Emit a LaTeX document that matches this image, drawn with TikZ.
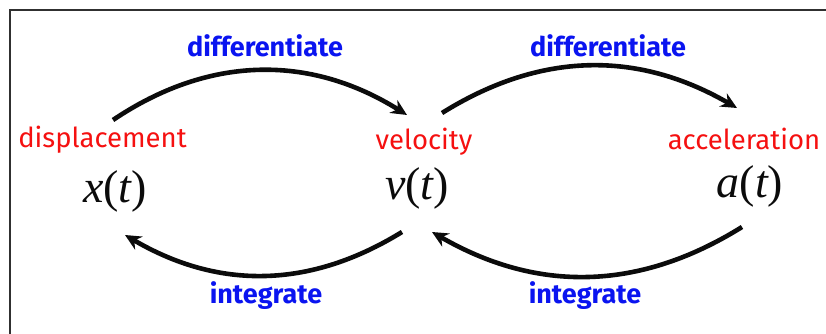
\documentclass[tikz,border=0pt]{standalone}
\usepackage{fontspec}
\setmainfont{Fira Sans}
\newfontfamily\tnr{Liberation Serif}
\usetikzlibrary{arrows.meta,positioning,calc}
\definecolor{blue1}{HTML}{0A14F0}
\definecolor{red1}{HTML}{F51010}
\definecolor{ink}{HTML}{0B0B0B}

\begin{document}
\begin{tikzpicture}[x=1pt,y=1pt,
    qty/.style={anchor=base,text=red1,inner sep=0pt,font=\fontsize{27.5}{30}\selectfont},
    func/.style={anchor=base,text=ink,inner sep=0pt,font=\tnr\fontsize{46}{50}\selectfont},
    op/.style={anchor=base,text=blue1,inner sep=0pt,font=\bfseries\fontsize{27}{30}\selectfont},
    flow/.style={-{Stealth[length=16pt,width=15pt]},ink,line width=4.6pt}]
  \useasboundingbox (0,0) rectangle (826,334);
  % frame, cut at the right and bottom
  \draw[ink!85,line width=2pt] (10,0) -- (10,324) -- (826,324);
  % quantities
  \node[qty] (disp) at (102.5,186) {displacement};
  \node[qty] (vel) at (424,184) {velocity};
  \node[qty] (acc) at (744,184) {acceleration};
  \node[func] (xt) at (115,131) {\itshape x\upshape(\itshape t\upshape)};
  \node[func] (vt) at (417,134) {\itshape v\upshape(\itshape t\upshape)};
  \node[func] (at) at (750,136) {\itshape a\upshape(\itshape t\upshape)};
  % operations
  \node[op] (dif1) at (265,277) {differentiate};
  \node[op] (dif2) at (608,277) {differentiate};
  \node[op] (int1) at (266,30) {integrate};
  \node[op] (int2) at (585,30) {integrate};
  % arrows
  \draw[flow] ([shift={(10.5,28)}]disp.base) to[bend left=33] ([shift={(-17,35)}]vel.base);
  \draw[flow] ([shift={(18,37)}]vel.base) to[bend left=31] ([shift={(-7,42)}]acc.base);
  \draw[flow] ([shift={(-15,-32)}]vt.base) to[bend left=31] ([shift={(10,-32)}]xt.base);
  \draw[flow] ([shift={(-8,-29)}]at.base) to[bend left=31] ([shift={(15,-32)}]vt.base);
\end{tikzpicture}
\end{document}
